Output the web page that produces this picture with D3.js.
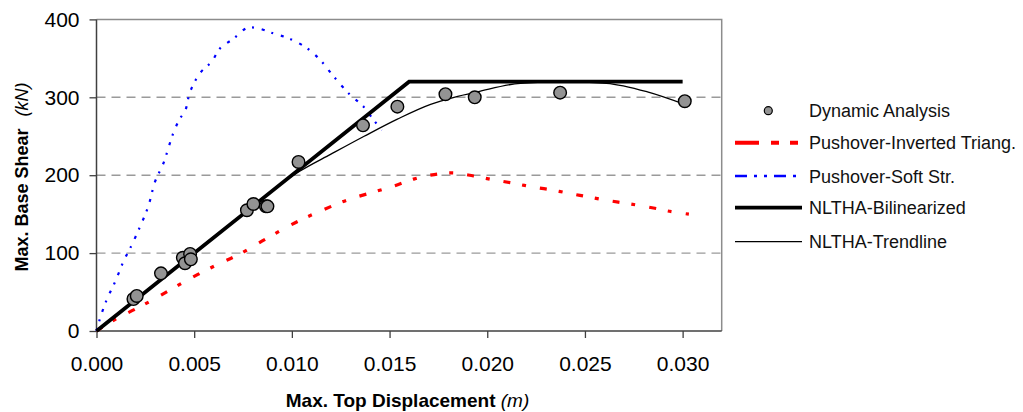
<!DOCTYPE html>
<html>
<head>
<meta charset="utf-8">
<script src="https://cdn.jsdelivr.net/npm/d3@7"></script>
<style>
  html, body { margin: 0; padding: 0; background: #fff; }
  svg { display: block; font-family: "Liberation Sans", Arial, sans-serif; }
</style>
</head>
<body>
<svg id="chart" width="1023" height="412"></svg>
<script>
// values (x in m, y in kN)
const dynamicAnalysis = [
  [0.00189, 41], [0.00206, 45], [0.0033, 74], [0.00442, 94], [0.00453, 87],
  [0.00479, 99], [0.00483, 92], [0.0077, 155], [0.00803, 163], [0.00867, 160],
  [0.00875, 160], [0.01034, 217], [0.01364, 264], [0.0154, 288], [0.01786, 304],
  [0.01936, 300], [0.02373, 306], [0.03011, 295]
];
const pushoverTriang = [
  [0, 0], [0.00018, 3], [0.00103, 16], [0.00206, 29], [0.00317, 44], [0.00462, 65],
  [0.00616, 85], [0.00727, 98], [0.00872, 119], [0.01017, 139], [0.01128, 152],
  [0.01282, 168], [0.01427, 179], [0.0152, 186], [0.01623, 195], [0.01708, 200],
  [0.0182, 203], [0.0193, 199], [0.02033, 194], [0.02127, 190], [0.0223, 185],
  [0.02332, 181], [0.02434, 176], [0.0252, 172], [0.0263, 167], [0.02733, 163],
  [0.0287, 157], [0.02924, 154], [0.03032, 150]
];
const pushoverSoft = [
  [0, 0], [0.00018, 16], [0.00052, 40], [0.00095, 63], [0.00141, 91], [0.00172, 106],
  [0.00223, 134], [0.00265, 160], [0.003, 192], [0.00342, 215], [0.00393, 254],
  [0.00428, 273], [0.00453, 282], [0.00479, 307], [0.0053, 331], [0.0059, 346],
  [0.00633, 363], [0.007, 375], [0.0077, 389], [0.0082, 389], [0.00906, 382],
  [0.00991, 375], [0.01077, 363], [0.01145, 348], [0.01213, 327], [0.01299, 303],
  [0.01367, 288], [0.01418, 271], [0.01461, 258]
];
const bilinear = [[0, 0], [0.016, 320], [0.030, 320]];
const trendline = [
  [0, 0], [0.002, 40.5], [0.004, 81], [0.006, 121], [0.008, 160], [0.0095, 190],
  [0.0104, 205], [0.012, 227], [0.0137, 250], [0.0154, 272], [0.0171, 291],
  [0.0183, 300], [0.0195, 307], [0.0217, 318], [0.0239, 320], [0.0261, 318],
  [0.0282, 307], [0.0301, 291]
];
const xTicks = [0, 0.005, 0.010, 0.015, 0.020, 0.025, 0.030];
const yTicks = [0, 100, 200, 300, 400];
const legendLabels = ['Dynamic Analysis', 'Pushover-Inverted Triang.', 'Pushover-Soft Str.',
  'NLTHA-Bilinearized', 'NLTHA-Trendline'];

const svg = d3.select('#chart');
const plotLeft = 96.5, plotRight = 721.7, plotTop = 19.4, plotBottom = 331;

const x = d3.scaleLinear().domain([0, 0.032]).range([plotLeft, plotRight]);
const y = d3.scaleLinear().domain([0, 400]).range([plotBottom, plotTop]);

// grid lines
svg.append('g')
  .selectAll('line')
  .data(yTicks.filter((d) => d > 0 && d < 400))
  .enter()
  .append('line')
  .attr('x1', plotLeft).attr('x2', plotRight)
  .attr('y1', (d) => y(d)).attr('y2', (d) => y(d))
  .attr('stroke', '#9a9a9a')
  .attr('stroke-width', 1.4)
  .attr('stroke-dasharray', '9,6');

// plot frame (top and right)
svg.append('path')
  .attr('d', `M${plotLeft},${plotTop}H${plotRight}V${plotBottom}`)
  .attr('fill', 'none')
  .attr('stroke', '#8c8c8c')
  .attr('stroke-width', 1.5);

// axes
const xAxis = svg.append('g')
  .attr('transform', `translate(0,${plotBottom})`)
  .call(d3.axisBottom(x).tickValues(xTicks).tickFormat(d3.format('.3f')).tickSize(7).tickPadding(18));
const yAxis = svg.append('g')
  .attr('transform', `translate(${plotLeft},0)`)
  .call(d3.axisLeft(y).tickValues(yTicks).tickSize(7).tickPadding(10));

[xAxis, yAxis].forEach((g) => {
  g.select('.domain').attr('stroke', '#404040').attr('stroke-width', 1.5);
  g.selectAll('.tick line').attr('stroke', '#404040').attr('stroke-width', 1.3);
  g.selectAll('.tick text')
    .attr('font-family', '"Liberation Sans", Arial, sans-serif')
    .attr('font-size', 21)
    .attr('fill', '#000');
});
yAxis.select('.domain').attr('d', `M0,${plotBottom}V${plotTop}`);
xAxis.select('.domain').attr('d', `M${plotLeft},0H${plotRight}`);

// series
const line = d3.line().x((d) => x(d[0])).y((d) => y(d[1]));

svg.append('path')
  .datum(pushoverTriang)
  .attr('d', line.curve(d3.curveCatmullRom.alpha(0.5)))
  .attr('fill', 'none')
  .attr('stroke', '#ff0000')
  .attr('stroke-width', 3.2)
  .attr('stroke-dasharray', '7,12,4,14');

svg.append('path')
  .datum(pushoverSoft)
  .attr('d', line.curve(d3.curveCatmullRom.alpha(0.5)))
  .attr('fill', 'none')
  .attr('stroke', '#0000ff')
  .attr('stroke-width', 2.2)
  .attr('stroke-dasharray', '3,7,2,8');

svg.append('path')
  .datum(trendline)
  .attr('d', line.curve(d3.curveMonotoneX))
  .attr('fill', 'none')
  .attr('stroke', '#000')
  .attr('stroke-width', 1.3);

svg.append('path')
  .datum(bilinear)
  .attr('d', line.curve(d3.curveLinear))
  .attr('fill', 'none')
  .attr('stroke', '#000')
  .attr('stroke-width', 3.8);

svg.append('g')
  .selectAll('circle')
  .data(dynamicAnalysis)
  .enter()
  .append('circle')
  .attr('cx', (d) => x(d[0]))
  .attr('cy', (d) => y(d[1]))
  .attr('r', 6.3)
  .attr('fill', '#939393')
  .attr('stroke', '#000')
  .attr('stroke-width', 1.4);

// axis titles
const yTitle = svg.append('text')
  .attr('transform', 'translate(28,177) rotate(-90)')
  .attr('text-anchor', 'middle')
  .attr('font-size', 18)
  .attr('fill', '#000');
yTitle.append('tspan').attr('font-weight', 'bold').text('Max. Base Shear');
yTitle.append('tspan').attr('dx', 12).attr('font-style', 'italic').text('(kN)');

const xTitle = svg.append('text')
  .attr('x', 407.5)
  .attr('y', 407)
  .attr('text-anchor', 'middle')
  .attr('font-size', 19)
  .attr('fill', '#000');
xTitle.append('tspan').attr('font-weight', 'bold').text('Max. Top Displacement ');
xTitle.append('tspan').attr('font-style', 'italic').text('(m)');

// legend
const legendY = [110.7, 142.7, 176, 207.7, 241.7];
const legend = svg.append('g');
const lx0 = 735, lx1 = 802, tx = 809;

legend.append('circle')
  .attr('cx', 768.3).attr('cy', legendY[0]).attr('r', 4)
  .attr('fill', '#939393').attr('stroke', '#000').attr('stroke-width', 1.2);

const legendStyles = [
  null,
  { color: '#ff0000', width: 4, dash: '24,12,8,11,8,12', end: 800 },
  { color: '#0000ff', width: 2.5, dash: '12,7,3,7,3,7', end: 797 },
  { color: '#000', width: 3.8, dash: null, end: lx1 },
  { color: '#000', width: 1.3, dash: null, end: lx1 }
];
legendStyles.forEach((s, i) => {
  if (!s) return;
  legend.append('line')
    .attr('x1', lx0).attr('x2', s.end)
    .attr('y1', legendY[i]).attr('y2', legendY[i])
    .attr('stroke', s.color)
    .attr('stroke-width', s.width)
    .attr('stroke-dasharray', s.dash);
});

legend.selectAll('text')
  .data(legendLabels)
  .enter()
  .append('text')
  .attr('x', tx)
  .attr('y', (d, i) => legendY[i] + 6.5)
  .attr('font-size', 18)
  .attr('fill', '#111')
  .text((d) => d);
</script>
</body>
</html>
